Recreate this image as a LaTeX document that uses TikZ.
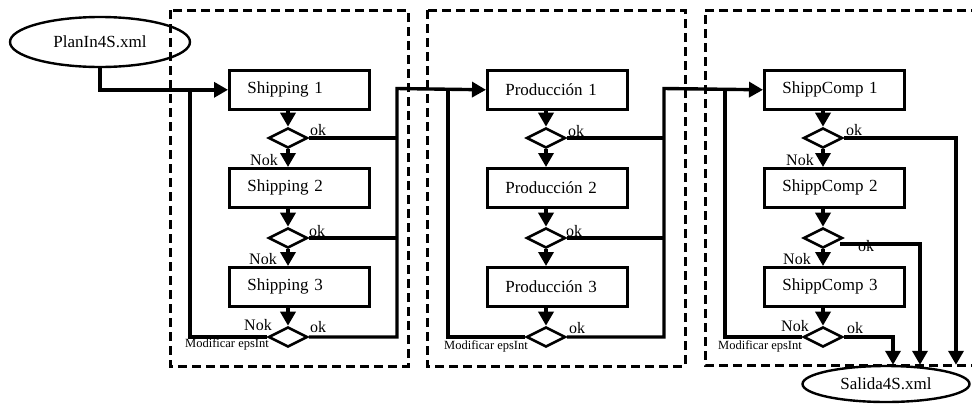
\documentclass[tikz,border=0pt]{standalone}
\usepackage{fontspec}
\setmainfont{Liberation Serif}
\usetikzlibrary{shapes.geometric,arrows.meta,calc}
\begin{document}
\begin{tikzpicture}[x=1pt,y=-1pt,
 stepbox/.style={draw, line width=2.6pt, minimum height=39pt, text width=104pt, inner xsep=18pt, inner ysep=0pt, align=left, font=\fontsize{17}{17}\selectfont, anchor=north west},
 dec/.style={draw, diamond, line width=2.6pt, minimum width=39pt, minimum height=20pt, inner sep=0pt},
 file/.style={draw, ellipse, line width=2.4pt, font=\fontsize{17}{17}\selectfont, inner sep=0pt},
 conn/.style={line width=3.4pt},
 arr/.style={conn, -{Triangle[length=14pt,width=15pt]}},
 lbl/.style={font=\fontsize{16}{16}\selectfont, inner sep=0pt},
 small/.style={font=\fontsize{12.5}{12.5}\selectfont, inner sep=0pt},
 panel/.style={dash pattern=on 9pt off 5pt, line width=3pt},
]
\useasboundingbox (0,0) rectangle (972,405);

% panels
\draw[panel] (170,10) rectangle (408,366);
\draw[panel] (427,10) rectangle (685,366);
\draw[panel] (980,10) -- (705,10) -- (705,365) -- (980,365);

% files
\node[file, minimum width=180pt, minimum height=50pt] (in) at (100,42) {PlanIn4S.xml};
\node[file, minimum width=167pt, minimum height=36pt] (out) at (886,384) {Salida4S.xml};

% panel 1
\node[stepbox] (a1) at (228,69) {Shipping 1};
\node[stepbox] (a2) at (228,167) {Shipping 2};
\node[stepbox] (a3) at (228,266) {Shipping 3};
\node[dec] (ad1) at (288,138) {};
\node[dec] (ad2) at (288,238) {};
\node[dec] (ad3) at (288,337) {};
\coordinate (al) at (190,88.5);
\coordinate (ar) at (397,88.5);

% panel 2
\node[stepbox] (b1) at (486,69) {Producción 1};
\node[stepbox] (b2) at (486,167) {Producción 2};
\node[stepbox] (b3) at (486,266) {Producción 3};
\node[dec] (bd1) at (546,138) {};
\node[dec] (bd2) at (546,238) {};
\node[dec] (bd3) at (546,337) {};
\coordinate (bl) at (448,88.5);
\coordinate (br) at (664,88.5);

% panel 3
\node[stepbox] (c1) at (763,69) {ShippComp 1};
\node[stepbox] (c2) at (763,167) {ShippComp 2};
\node[stepbox] (c3) at (763,266) {ShippComp 3};
\node[dec] (cd1) at (823,138) {};
\node[dec] (cd2) at (823,238) {};
\node[dec] (cd3) at (823,337) {};
\coordinate (cl) at (725,88.5);
\coordinate (cd2o) at (840,244);
\coordinate (o1) at (956,0);
\coordinate (o2) at (920,0);
\coordinate (o3) at (893,0);

% vertical flow arrows
\foreach \p in {a,b,c}{
  \draw[arr] (\p1.south -| \p d1) -- (\p d1.north);
  \draw[arr] (\p d1.south) -- (\p d1.south |- \p2.north);
  \draw[arr] (\p2.south -| \p d2) -- (\p d2.north);
  \draw[arr] (\p d2.south) -- (\p d2.south |- \p3.north);
  \draw[arr] (\p3.south -| \p d3) -- (\p d3.north);
}

% input
\draw[arr] (in.south) |- (a1.west);

% loops back (Modificar epsInt)
\draw[conn] (ad3.west) -| (al);
\draw[conn] (bd3.west) -| (bl);
\draw[conn] (cd3.west) -| (cl);

% ok exits panel 1
\draw[conn] (ad1.east) -- (ad1.east -| ar);
\draw[conn] (ad2.east) -- (ad2.east -| ar);
\draw[arr] (ad3.east) -| (ar) -- (b1.west);

% ok exits panel 2
\draw[conn] (bd1.east) -- (bd1.east -| br);
\draw[conn] (bd2.east) -- (bd2.east -| br);
\draw[arr] (bd3.east) -| (br) -- (c1.west);

% ok exits panel 3
\draw[arr] (cd1.east) -| (o1 |- out.north);
\draw[arr] (cd2o) -| (o2 |- out.north);
\draw[arr] (cd3.east) -| (o3 |- out.north);

% labels panel 1
\node[lbl] (ok11) at (318,130) {ok};
\node[lbl] (nok11) at (264,160) {Nok};
\node[lbl] (ok12) at (317,231) {ok};
\node[lbl] (nok12) at (263,259) {Nok};
\node[lbl] (nok13) at (258,325) {Nok};
\node[lbl] (ok13) at (318,327) {ok};
\node[small] (mod1) at (227,344) {Modificar epsInt};

% labels panel 2
\node[lbl] (ok21) at (576,131) {ok};
\node[lbl] (ok22) at (574,231) {ok};
\node[lbl] (ok23) at (577,328) {ok};
\node[small] (mod2) at (486,346) {Modificar epsInt};

% labels panel 3
\node[lbl] (ok31) at (854,130) {ok};
\node[lbl] (nok31) at (800,160) {Nok};
\node[lbl] (ok32) at (866,246) {ok};
\node[lbl] (nok32) at (797,259) {Nok};
\node[lbl] (nok33) at (795,326) {Nok};
\node[lbl] (ok33) at (855,328) {ok};
\node[small] (mod3) at (760,346) {Modificar epsInt};
\end{tikzpicture}
\end{document}
